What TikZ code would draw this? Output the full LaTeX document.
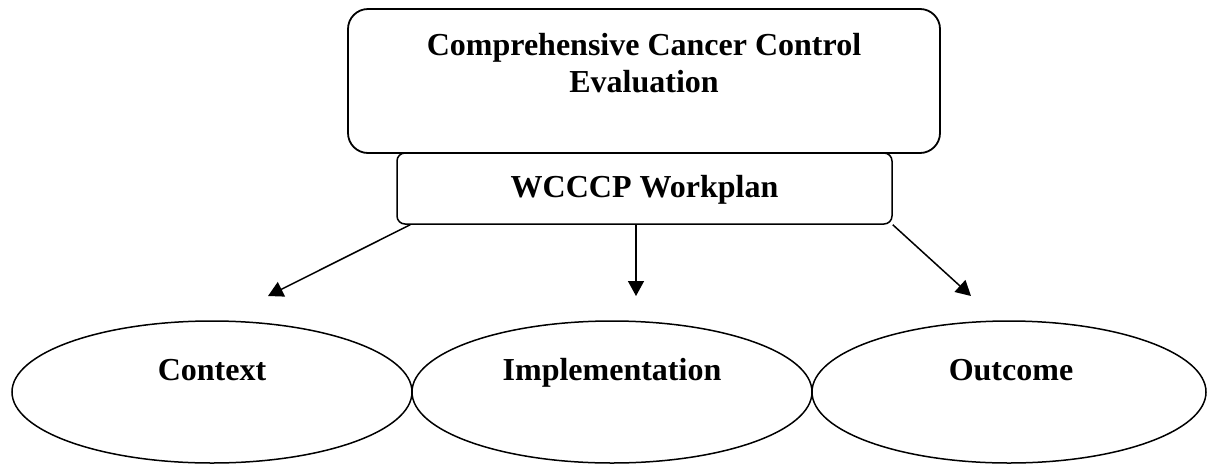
\documentclass[tikz,border=0pt]{standalone}
\usepackage{fontspec}
\setmainfont{Liberation Serif}
\usetikzlibrary{arrows.meta,shapes.geometric,calc}
\tikzset{
  bigbox/.style={draw, line width=1.8pt, rounded corners=20pt, minimum width=592pt, minimum height=144pt, inner sep=0pt},
  planbox/.style={draw, line width=1.5pt, rounded corners=8pt, minimum width=495pt, minimum height=71pt, inner sep=0pt},
  oval/.style={draw, ellipse, line width=1.5pt, minimum width=400pt, minimum height=142pt, inner sep=0pt},
  lbl/.style={anchor=base, inner sep=0pt, font=\fontsize{32}{37}\selectfont\bfseries},
  arr/.style={line width=1.5pt, -{Triangle[length=15pt,width=16pt]}}
}
\begin{document}
\begin{tikzpicture}[x=1pt,y=-1pt]
\useasboundingbox (0,0) rectangle (1207,464);
% boxes
\node[bigbox] (top) at (644,81) {};
\node[planbox] (wp) at (644.5,188.5) {};
\node[lbl] (t1) at (644,55) {Comprehensive Cancer Control};
\node[lbl] (t2) at (644,92) {Evaluation};
\node[lbl] (wpt) at (644.5,197) {WCCCP Workplan};
% ellipses
\node[oval] (ctx) at (212,392) {};
\node[oval] (imp) at (612,392) {};
\node[oval, minimum width=394pt] (out) at (1009,392) {};
\node[lbl] (ctxt) at (212,380) {Context};
\node[lbl] (impt) at (612,380) {Implementation};
\node[lbl] (outt) at (1011,380) {Outcome};
% arrows
\coordinate (s1) at ($(wp.south west)+(14,0)$);
\coordinate (s2) at ($(wp.south)+(-8.5,0)$);
\coordinate (s3) at (wp.south east);
\coordinate (e1) at (268,296);
\coordinate (e2) at (636,296);
\coordinate (e3) at (971,296);
\draw[arr] (s1) -- (e1);
\draw[arr] (s2) -- (e2);
\draw[arr] (s3) -- (e3);
\end{tikzpicture}
\end{document}
